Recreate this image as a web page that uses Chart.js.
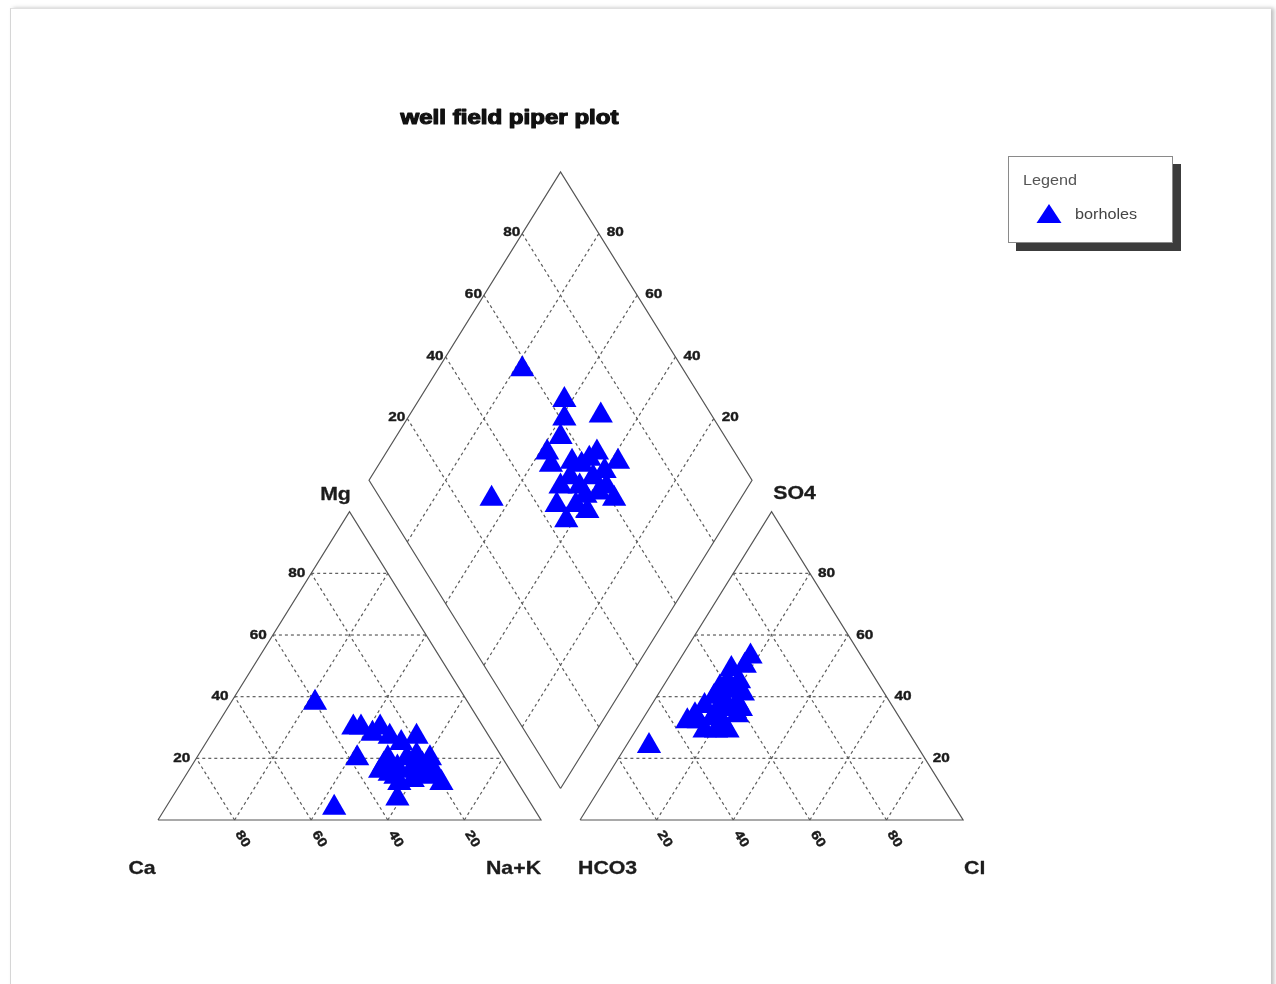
<!DOCTYPE html>
<html>
<head>
<meta charset="utf-8">
<script src="https://cdn.jsdelivr.net/npm/chart.js@4.4.0/dist/chart.umd.min.js"></script>
<style>
  html, body { margin: 0; padding: 0; background: #ffffff; }
  #wrap { position: relative; width: 1276px; height: 984px; overflow: hidden; background: #fff; }
  #frame { position: absolute; left: 10px; top: 8px; width: 1260px; height: 1000px;
           border-left: 1px solid #d6d6d6; border-top: 1px solid #e0e0e0;
           box-shadow: 3px 0 4px rgba(0,0,0,0.25); background: #fff; }
  #c { position: absolute; left: 0; top: 0; }
</style>
</head>
<body>
<div id="wrap">
  <div id="frame"></div>
  <canvas id="c" width="1276" height="984"></canvas>
</div>
<script>
// ---------------- data (percent of meq) ----------------
const titleText = 'well field piper plot';
const seriesName = 'borholes';
const tickValues = [20, 40, 60, 80];

// cation triangle samples
const cationCa  = [40, 52, 38, 34, 34, 32, 30, 27, 26, 24, 19, 19, 30, 34, 29, 26, 20, 22, 27, 31, 32, 25, 22, 23, 31, 22, 20, 32];
const cationMg  = [38,  4, 20,  7, 30, 30, 28, 30, 27, 25, 27, 20, 20, 16, 17, 16, 12, 14, 13, 12, 15, 20, 18, 15, 14, 21, 16, 18];
const cationNaK = [22, 44, 42, 59, 36, 38, 42, 43, 47, 51, 54, 61, 50, 50, 54, 58, 68, 64, 60, 57, 53, 55, 60, 62, 55, 57, 64, 50];

// anion triangle samples
const anionSO4  = [24, 53, 50, 49, 45, 45, 43, 42, 41, 40, 39, 38, 37, 36, 36, 34, 32, 33, 32, 34, 29, 29, 29, 32, 36, 42];
const anionCl   = [ 6, 18, 18, 15, 19, 16, 15, 19, 22, 15, 18, 22, 14, 18, 21, 13, 15, 18, 21, 24, 18, 21, 24, 12, 24, 17];
const anionHCO3 = anionSO4.map((s, i) => 100 - s - anionCl[i]);

// diamond (central field) samples
const diamondSO4Cl = [58, 29, 64, 71, 61, 57, 51, 50, 64, 68, 56, 58, 61, 45, 45, 52, 58, 61, 54, 59, 53, 54, 63, 50, 61, 49];
const diamondCaMg  = [78, 65, 62, 50, 59, 57, 58, 55, 45, 38, 50, 47, 33, 47, 42, 38, 38, 37, 44, 42, 48, 41, 40, 42, 46, 49];

// ---------------- geometry (ternary units, side = 100) ----------------
const H = Math.sqrt(3) / 2;
const GAP = 10.2;
function cat(ca, mg, na) { const s = ca + mg + na; return { x: (na + mg / 2) / s * 100, y: mg / s * 100 * H }; }
function an(hc, so4, cl) { const s = hc + so4 + cl; return { x: 100 + GAP + (cl + so4 / 2) / s * 100, y: so4 / s * 100 * H }; }
const B = { x: 100 + GAP / 2, y: GAP * H };
function dia(camg, so4cl) { return { x: B.x + (so4cl - camg) / 2, y: B.y + (camg + so4cl) * H }; }

const catPts = cationCa.map((c, i) => cat(c, cationMg[i], cationNaK[i]));
const anPts  = anionSO4.map((s, i) => an(anionHCO3[i], s, anionCl[i]));
const diaPts = diamondSO4Cl.map((a, i) => dia(diamondCaMg[i], a));

// line segments
const solid = [], dashed = [];
solid.push([cat(100,0,0), cat(0,0,100), cat(0,100,0), cat(100,0,0)]);
solid.push([an(100,0,0), an(0,0,100), an(0,100,0), an(100,0,0)]);
solid.push([dia(0,0), dia(0,100), dia(100,100), dia(100,0), dia(0,0)]);
tickValues.forEach(k => {
  dashed.push([cat(100-k, k, 0), cat(0, k, 100-k)]);
  dashed.push([cat(100-k, 0, k), cat(0, 100-k, k)]);
  dashed.push([cat(k, 0, 100-k), cat(k, 100-k, 0)]);
  dashed.push([an(100-k, k, 0), an(0, k, 100-k)]);
  dashed.push([an(100-k, 0, k), an(0, 100-k, k)]);
  dashed.push([an(k, 0, 100-k), an(k, 100-k, 0)]);
  dashed.push([dia(0, k), dia(100, k)]);
  dashed.push([dia(k, 0), dia(k, 100)]);
});

const pointStyle = {
  type: 'scatter', order: 0, pointStyle: 'triangle', pointRadius: 14, pointHoverRadius: 14,
  backgroundColor: '#0000ff', borderColor: '#0000ff', borderWidth: 0, showLine: false
};
const datasets = [
  Object.assign({ label: seriesName, data: catPts }, pointStyle),
  Object.assign({ label: seriesName + ' anions', data: anPts }, pointStyle),
  Object.assign({ label: seriesName + ' diamond', data: diaPts }, pointStyle)
];
solid.forEach(s => datasets.push({ type: 'scatter', order: 1, data: s, showLine: true, pointRadius: 0,
  borderColor: '#555555', borderWidth: 1.2, fill: false }));
dashed.forEach(s => datasets.push({ type: 'scatter', order: 1, data: s, showLine: true, pointRadius: 0,
  borderColor: '#5c5c5c', borderWidth: 1.2, borderDash: [3, 3], fill: false }));

// ---------------- text / legend plugin ----------------
const FONT = '"Liberation Sans", Arial, sans-serif';
function txt(ctx, s, x, y, o) {
  ctx.save();
  ctx.font = o.font; ctx.fillStyle = o.color || '#111';
  ctx.textAlign = o.align || 'center'; ctx.textBaseline = 'middle';
  ctx.translate(x, y);
  if (o.rot) ctx.rotate(o.rot);
  let sx = o.sx || 1;
  if (o.width) sx = o.width / ctx.measureText(s).width;
  ctx.scale(sx, 1);
  if (o.stroke) { ctx.strokeStyle = o.color || '#111'; ctx.lineWidth = o.stroke; ctx.lineJoin = 'round'; ctx.strokeText(s, 0, 0); }
  ctx.fillText(s, 0, 0);
  ctx.restore();
}

const labelsPlugin = {
  id: 'piperLabels',
  afterDraw(chart) {
    const ctx = chart.ctx, xs = chart.scales.x, ys = chart.scales.y;
    const P = p => ({ x: xs.getPixelForValue(p.x), y: ys.getPixelForValue(p.y) });
    const tickFont = 'bold 13px ' + FONT, tc = '#1a1a1a';
    const rot = 58 * Math.PI / 180;
    const tk = { font: tickFont, color: tc, sx: 1.18, stroke: 0.4 };
    tickValues.forEach(k => {
      let p = P(cat(100 - k, k, 0));
      txt(ctx, String(k), p.x - 6, p.y, Object.assign({}, tk, { align: 'right' }));
      p = P(cat(k, 0, 100 - k));
      txt(ctx, String(k), p.x + 8, p.y + 19, Object.assign({}, tk, { rot: rot }));
      p = P(an(0, k, 100 - k));
      txt(ctx, String(k), p.x + 8, p.y, Object.assign({}, tk, { align: 'left' }));
      p = P(an(100 - k, 0, k));
      txt(ctx, String(k), p.x + 8, p.y + 19, Object.assign({}, tk, { rot: rot }));
      p = P(dia(100, k));
      txt(ctx, String(k), p.x - 2, p.y - 1, Object.assign({}, tk, { align: 'right' }));
      p = P(dia(k, 100));
      txt(ctx, String(k), p.x + 8, p.y - 1, Object.assign({}, tk, { align: 'left' }));
    });
    const cf = 'bold 19px ' + FONT, cc = '#1c1c1c';
    const co = { font: cf, color: cc, sx: 1.12, stroke: 0.3 };
    let v = P(cat(0, 100, 0));  txt(ctx, 'Mg', v.x - 14, v.y - 17, co);
    v = P(an(0, 100, 0));       txt(ctx, 'SO4', v.x + 23, v.y - 18, co);
    v = P(cat(100, 0, 0));      txt(ctx, 'Ca', v.x - 16, v.y + 49, co);
    v = P(cat(0, 0, 100));      txt(ctx, 'Na+K', v.x, v.y + 49, Object.assign({}, co, { align: 'right' }));
    v = P(an(100, 0, 0));       txt(ctx, 'HCO3', v.x - 2, v.y + 49, Object.assign({}, co, { align: 'left' }));
    v = P(an(0, 0, 100));       txt(ctx, 'Cl', v.x + 1, v.y + 49, Object.assign({}, co, { align: 'left' }));

    txt(ctx, titleText, 509.5, 118, { font: 'bold 20px ' + FONT, color: '#111', width: 218, stroke: 1.2 });

    // legend box
    ctx.save();
    ctx.fillStyle = '#3c3c3c';
    ctx.fillRect(1016, 164, 165, 87);
    ctx.fillStyle = '#ffffff';
    ctx.fillRect(1008, 156, 165, 87);
    ctx.strokeStyle = '#8a8a8a'; ctx.lineWidth = 1;
    ctx.strokeRect(1008.5, 156.5, 164, 86);
    ctx.fillStyle = '#0000ff';
    ctx.beginPath();
    ctx.moveTo(1049, 204); ctx.lineTo(1061.5, 223); ctx.lineTo(1036.5, 223); ctx.closePath();
    ctx.fill();
    ctx.restore();
    txt(ctx, 'Legend', 1023, 181, { font: '15px ' + FONT, color: '#555', align: 'left', sx: 1.08 });
    txt(ctx, seriesName, 1075, 215, { font: '15px ' + FONT, color: '#444', align: 'left', sx: 1.08 });
  }
};

new Chart(document.getElementById('c'), {
  type: 'scatter',
  data: { datasets },
  options: {
    responsive: false, animation: false, devicePixelRatio: 1, events: [],
    layout: { padding: 0, autoPadding: false },
    plugins: { legend: { display: false }, tooltip: { enabled: false }, title: { display: false } },
    scales: {
      x: { type: 'linear', display: false, min: -41.25, max: 291.9, bounds: 'data' },
      y: { type: 'linear', display: false, min: -46.07, max: 230.34, bounds: 'data' }
    }
  },
  plugins: [labelsPlugin]
});
</script>
</body>
</html>
